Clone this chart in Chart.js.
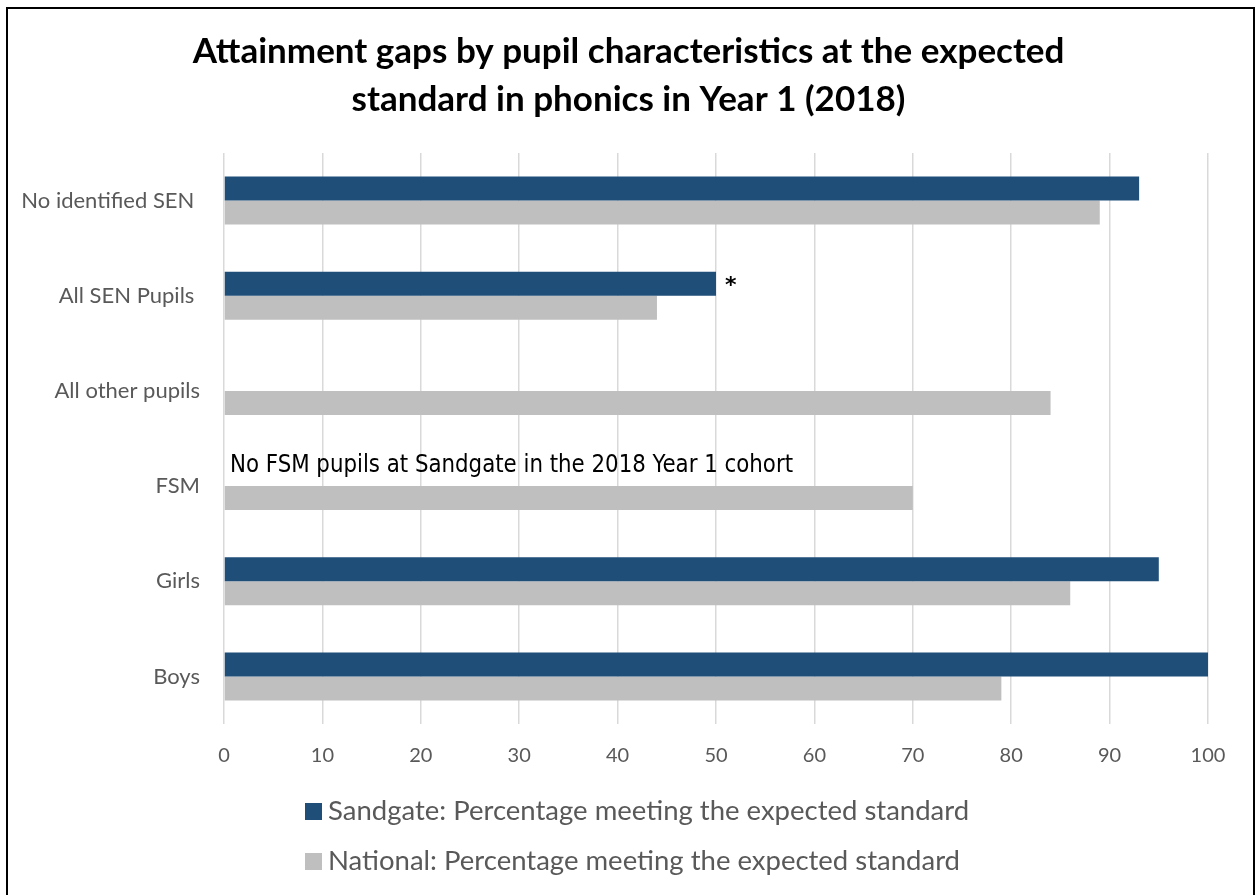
<!DOCTYPE html>
<html>
<head>
<meta charset="utf-8">
<script src="https://cdn.jsdelivr.net/npm/chart.js@4.4.1/dist/chart.umd.min.js"></script>
<style>
  html, body { margin: 0; padding: 0; background: #fff; }
  #wrap { width: 1257px; height: 895px; }
</style>
</head>
<body>
<div id="wrap"><canvas id="gapChart" width="1257" height="895"></canvas></div>
<script>
// --- data ---
const categories = ["No identified SEN ", "All SEN Pupils ", "All other pupils", "FSM", "Girls", "Boys"];
const sandgateValues = [93, 50, null, null, 95, 100];
const nationalValues = [89, 44, 84, 70, 86, 79];
const seriesLabels = ["Sandgate: Percentage meeting the expected standard", "National: Percentage meeting the expected standard"];
const titleLines = ["Attainment gaps by pupil characteristics at the expected", "standard in phonics in Year 1 (2018)"];
const fsmNote = "No FSM pupils at Sandgate in the 2018 Year 1 cohort";

const DARK = "#1f4e79";
const GREY = "#bfbfbf";
const TEXT = "#595959";

// white background + thin black frame
const framePlugin = {
  id: "frame",
  beforeDraw(chart) {
    const ctx = chart.ctx;
    ctx.save();
    ctx.fillStyle = "#fff";
    ctx.fillRect(0, 0, chart.width, chart.height);
    ctx.strokeStyle = "#000";
    ctx.lineWidth = 2;
    ctx.strokeRect(7, 8, 1247, 900);
    ctx.restore();
  }
};

// the "*" and the FSM note, placed from the scales
const notesPlugin = {
  id: "notes",
  afterDatasetsDraw(chart) {
    const ctx = chart.ctx;
    const x = chart.scales.x;
    const natBars = chart.getDatasetMeta(1).data;
    ctx.save();
    ctx.fillStyle = "#000";
    ctx.textBaseline = "middle";
    ctx.textAlign = "left";

    const sen = chart.getDatasetMeta(0).data[1];
    ctx.font = "bold 22px 'DejaVu Sans'";
    ctx.fillText("*", x.getPixelForValue(sandgateValues[1]) + 9, sen.y + 3);

    // narrow-looking note: condensed face squeezed a little
    const fsm = natBars[3];
    ctx.font = "24px 'DejaVu Sans Condensed'";
    ctx.fillText(fsmNote, x.getPixelForValue(0) + 6, fsm.y - fsm.height - 8, 563);
    ctx.restore();
  }
};

// legend drawn as two left-aligned rows
const legendPlugin = {
  id: "stackedLegend",
  afterDraw(chart) {
    const ctx = chart.ctx;
    const colours = [DARK, GREY];
    ctx.save();
    ctx.font = "27.5px Lato";
    ctx.textBaseline = "middle";
    ctx.textAlign = "left";
    seriesLabels.forEach((lab, i) => {
      const y = 811 + i * 50;
      ctx.fillStyle = colours[i];
      ctx.fillRect(305, y - 8, 17, 17);
      ctx.fillStyle = TEXT;
      ctx.fillText(lab, 328, y);
    });
    ctx.restore();
  }
};

new Chart(document.getElementById("gapChart"), {
  type: "bar",
  data: {
    labels: categories,
    datasets: [
      { label: seriesLabels[0], data: sandgateValues, backgroundColor: DARK,
        categoryPercentage: 0.505, barPercentage: 1.0 },
      { label: seriesLabels[1], data: nationalValues, backgroundColor: GREY,
        categoryPercentage: 0.505, barPercentage: 1.0 }
    ]
  },
  options: {
    indexAxis: "y",
    responsive: false,
    animation: false,
    layout: { padding: { left: 0, right: 0, top: 0, bottom: 111 } },
    plugins: {
      legend: { display: false },
      tooltip: { enabled: false },
      title: {
        display: true,
        text: titleLines,
        color: "#000",
        font: { family: "Lato", size: 35, weight: "bold", lineHeight: 48 / 35 },
        padding: { top: 28, bottom: 29 }
      }
    },
    scales: {
      x: {
        min: 0,
        max: 100,
        ticks: { stepSize: 10, color: TEXT, font: { family: "Lato", size: 20 }, padding: 20 },
        grid: { color: "#d9d9d9", lineWidth: 1.5, drawTicks: false },
        border: { display: false },
        afterFit(s) { s.height = 60; }
      },
      y: {
        ticks: { color: TEXT, font: { family: "Lato", size: 22 }, padding: 24 },
        grid: { display: false, drawTicks: false },
        border: { display: false },
        afterFit(s) { s.width = 224; }
      },
      // empty right-hand margin so the title stays centred on the whole frame
      yRight: {
        type: "category",
        position: "right",
        ticks: { display: false },
        grid: { display: false, drawTicks: false },
        border: { display: false },
        afterFit(s) { s.width = 49; }
      }
    }
  },
  plugins: [framePlugin, notesPlugin, legendPlugin]
});
</script>
</body>
</html>
